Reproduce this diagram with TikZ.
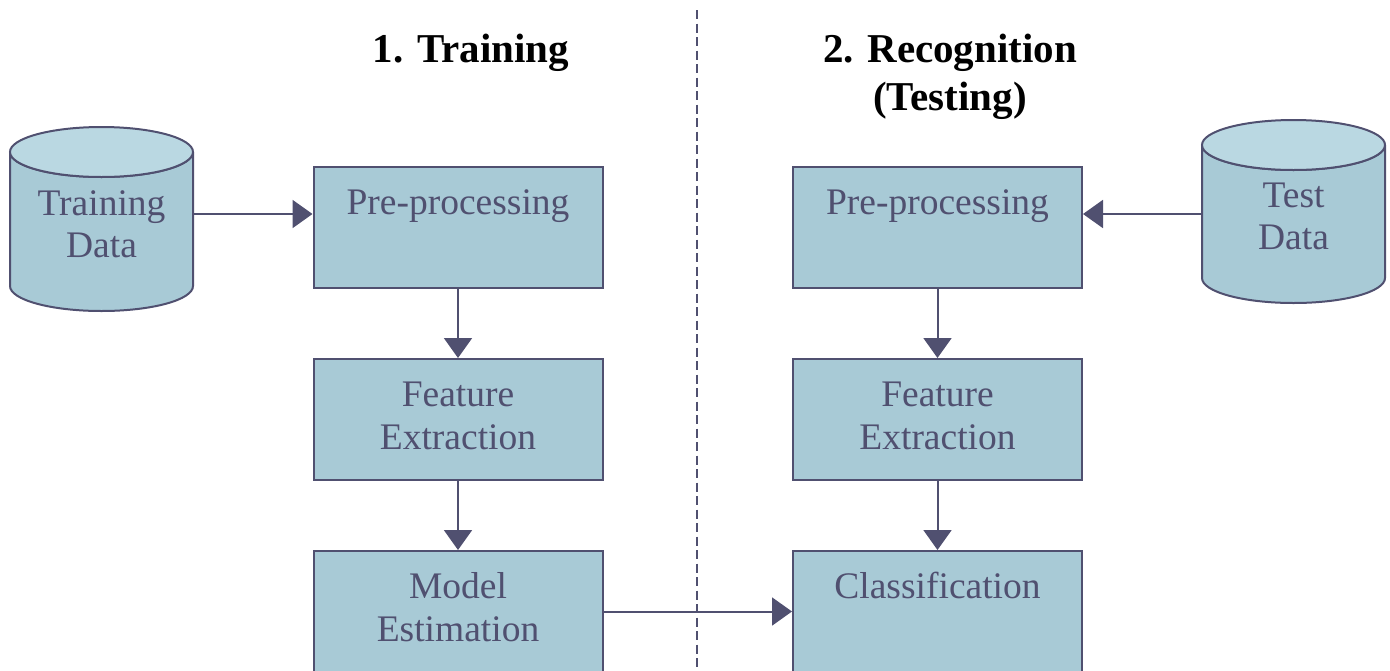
\documentclass[tikz,border=0pt]{standalone}
\usepackage{fontspec}
\setmainfont{Liberation Serif}
\usetikzlibrary{arrows.meta}
\definecolor{ink}{RGB}{80,80,112}
\definecolor{boxfill}{RGB}{168,202,214}
\definecolor{topfill}{RGB}{186,216,226}
\tikzset{
  x=1pt,y=1pt,
  stepbox/.style={draw=ink,line width=2pt,fill=boxfill,minimum width=289,minimum height=121,inner sep=0},
  boxtext/.style={text=ink,font=\fontsize{37.5}{43}\selectfont,align=center,anchor=base,inner sep=0},
  cyltext/.style={text=ink,font=\fontsize{37.5}{42}\selectfont,align=center,inner sep=0,minimum width=183,minimum height=184},
  title/.style={font=\fontsize{41}{48}\selectfont\bfseries,align=center,inner sep=0,anchor=base},
  arr/.style={draw=ink,line width=2pt,-{Triangle[length=20pt,width=28pt]}},
  sep/.style={draw=ink,line width=2pt,dash pattern=on 9pt off 4.5pt}
}
\begin{document}
\begin{tikzpicture}
\useasboundingbox (0,0) rectangle (1390,-670);
\clip (0,0) rectangle (1390,-670);

% separator
\coordinate (septop) at (697,-10);
\coordinate (sepbot) at (697,-680);
\draw[sep] (septop) -- (sepbot);

% titles (base anchor = baseline of last line)
\node[title] (t1) at (471,-62) {1. Training};
\node[title] (t2) at (950,-110) {2. Recognition\\(Testing)};

% left boxes
\node[stepbox] (pre1) at (458,-227.5) {};
\node[stepbox] (fe1) at (458,-419.5) {};
\node[stepbox] (me1) at (458,-611.5) {};
% right boxes
\node[stepbox] (pre2) at (937.5,-227.5) {};
\node[stepbox] (fe2) at (937.5,-419.5) {};
\node[stepbox] (cl2) at (937.5,-611.5) {};

% box texts
\node[boxtext] (pre1t) at ([yshift=-48]pre1.north) {Pre-processing};
\node[boxtext] (fe1t) at ([yshift=-91]fe1.north) {Feature\\Extraction};
\node[boxtext] (me1t) at ([yshift=-91]me1.north) {Model\\Estimation};
\node[boxtext] (pre2t) at ([yshift=-48]pre2.north) {Pre-processing};
\node[boxtext] (fe2t) at ([yshift=-91]fe2.north) {Feature\\Extraction};
\node[boxtext] (cl2t) at ([yshift=-48]cl2.north) {Classification};

% cylinders
\begin{scope}[line width=2pt,draw=ink]
  \filldraw[fill=boxfill] (10,-152) -- (10,-286) arc[start angle=180,end angle=360,x radius=91.5,y radius=25] -- (193,-152) arc[start angle=0,end angle=-180,x radius=91.5,y radius=25] -- cycle;
  \filldraw[fill=topfill] (101.5,-152) ellipse[x radius=91.5,y radius=25];
  \filldraw[fill=boxfill] (1202,-145) -- (1202,-278) arc[start angle=180,end angle=360,x radius=91.5,y radius=25] -- (1385,-145) arc[start angle=0,end angle=-180,x radius=91.5,y radius=25] -- cycle;
  \filldraw[fill=topfill] (1293.5,-145) ellipse[x radius=91.5,y radius=25];
\end{scope}
\node[cyltext] (train) at (101.5,-224) {Training\\Data};
\node[cyltext] (test) at (1293.5,-216) {Test\\Data};

% connectors
\draw[arr] (train.east |- 0,-214) -- (pre1.west |- 0,-214);
\draw[arr] (test.west |- 0,-214) -- (pre2.east |- 0,-214);
\draw[arr] (pre1) -- (fe1);
\draw[arr] (fe1) -- (me1);
\draw[arr] (pre2) -- (fe2);
\draw[arr] (fe2) -- (cl2);
\draw[arr] (me1) -- (cl2);
\end{tikzpicture}
\end{document}
